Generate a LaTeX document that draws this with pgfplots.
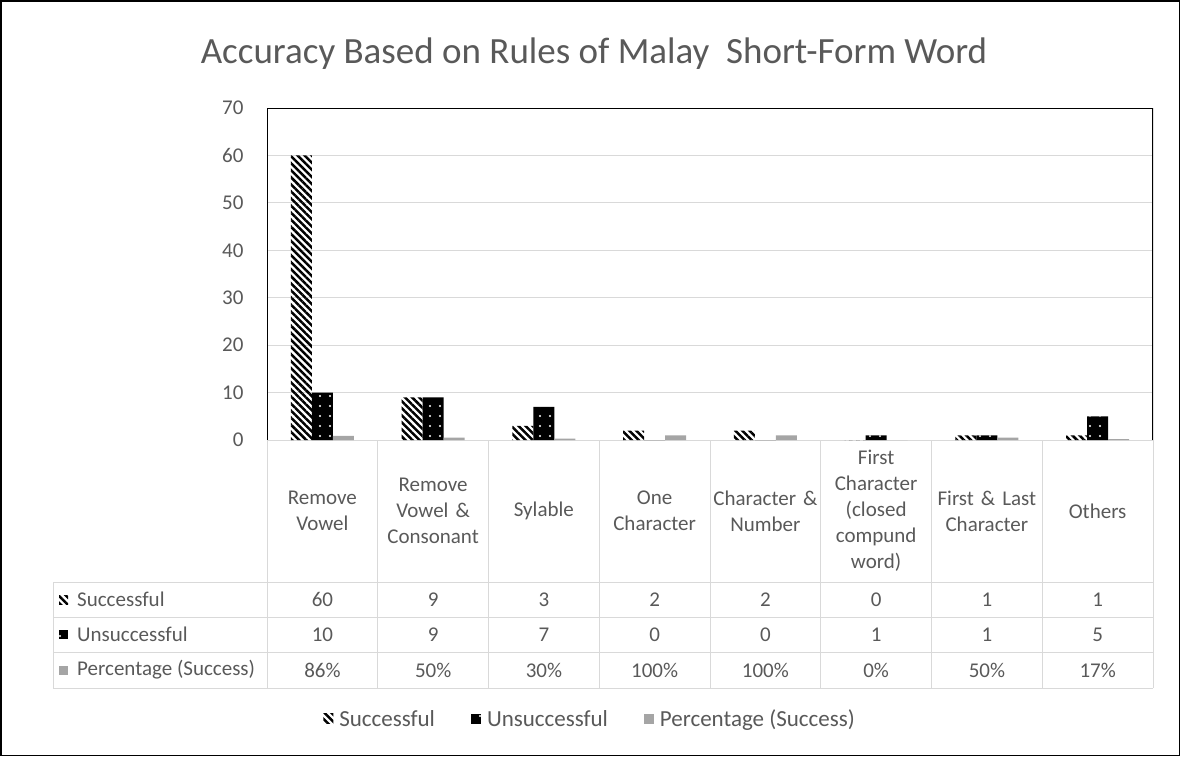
\documentclass[border=0pt]{standalone}
\usepackage{pgfplots}
\pgfplotsset{compat=1.18}
\usepackage{fontspec}
\setmainfont{Carlito}
\usetikzlibrary{patterns.meta}
\definecolor{txt}{HTML}{595959}
\definecolor{grd}{HTML}{D9D9D9}
\definecolor{pct}{HTML}{A5A5A5}
\tikzset{
  succ/.style={pattern={Lines[angle=-45,distance=5pt,line width=2.5pt]},pattern color=black},
  unsucc/.style={fill=black,postaction={pattern={Dots[distance=10pt,radius=1.2pt]},pattern color=white}}
}
\newcommand\fs{\fontsize{21}{26}\selectfont}
\begin{document}
\begin{tikzpicture}[x=1pt,y=1pt]
\path (0,0) rectangle (1180,-756);
\draw[line width=1.5pt] (0.75,-0.75) rectangle (1179.25,-755.25);
\node[text=txt, font=\fontsize{37}{44}\selectfont] at (594,-54) {Accuracy Based on Rules of Malay\ \ Short-Form Word};
\begin{axis}[at={(267pt,-440pt)}, anchor=south west, scale only axis,
  width=886pt, height=332pt, ybar,
  ymin=0, ymax=70, ytick={0,10,...,70}, xmin=-0.5, xmax=7.5,
  xtick={0,...,7},
  xticklabels={{Remove\\Vowel},{Remove\\Vowel \&\\Consonant},{Sylable},{One\\Character},{Character \&\\Number},{First\\Character\\(closed\\compund\\word)},{First \& Last\\Character},{Others}},
  xticklabel style={text=txt, anchor=center, yshift=-71pt, align=center, text width=105pt, font=\fs},
  yticklabel style={text=txt, font=\fs, xshift=-20pt},
  /pgf/number format/assume math mode=true,
  ymajorgrids, grid style={grd, line width=1pt},
  major tick length=0pt, axis line style={draw=none},
  legend style={at={(0.3646,-0.84)}, anchor=center, draw=none, legend columns=3, text=txt,
    font=\fontsize{23}{28}\selectfont,
    /tikz/every odd column/.append style={column sep=4pt},
    /tikz/every even column/.append style={column sep=34pt}},
  legend image code/.code={\fill[#1] (0pt,-5pt) rectangle (10pt,5pt);},
]
\addplot[succ, draw=none, bar width=21pt, bar shift=-21pt] coordinates {(0,60)(1,9)(2,3)(3,2)(4,2)(5,0)(6,1)(7,1)};
\addplot[unsucc, draw=none, bar width=21pt, bar shift=0pt] coordinates {(0,10)(1,9)(2,7)(3,0)(4,0)(5,1)(6,1)(7,5)};
\addplot[fill=pct, draw=none, bar width=21pt, bar shift=21pt] coordinates {(0,0.86)(1,0.5)(2,0.3)(3,1)(4,1)(5,0)(6,0.5)(7,0.17)};
\legend{Successful,Unsuccessful,Percentage (Success)}
\draw[black, line width=1.2pt] (rel axis cs:0,0) -- (rel axis cs:0,1) -- (rel axis cs:1,1) -- (rel axis cs:1,0);
\end{axis}
\foreach \i in {1,...,8} \draw[grd, line width=1pt] ({267+\i*110.75},-440) -- ({267+\i*110.75},-688);
\draw[grd, line width=1pt] (267,-441) -- (267,-688);
\foreach \y in {582,617,652,688} \draw[grd, line width=1pt] (53,-\y) -- (1153,-\y);
\draw[grd, line width=1pt] (53,-582) -- (53,-688);
\foreach \v [count=\i from 0] in {60,9,3,2,2,0,1,1} \node[text=txt,font=\fs] at ({322.4+\i*110.75},-599.5) {\v};
\foreach \v [count=\i from 0] in {10,9,7,0,0,1,1,5} \node[text=txt,font=\fs] at ({322.4+\i*110.75},-634.5) {\v};
\foreach \v [count=\i from 0] in {86\%,50\%,30\%,100\%,100\%,0\%,50\%,17\%} \node[text=txt,font=\fs] at ({322.4+\i*110.75},-670) {\v};
\fill[succ] (59,-595) rectangle (68,-604);
\fill[unsucc] (59,-630) rectangle (68,-639);
\fill[pct] (59,-665.5) rectangle (68,-674.5);
\node[anchor=west,text=txt,font=\fs,inner sep=0pt] at (77,-599.5) {Successful};
\node[anchor=west,text=txt,font=\fs,inner sep=0pt] at (77,-634.5) {Unsuccessful};
\node[anchor=west,text=txt,font=\fs,inner sep=0pt] at (77,-670) {Percentage (Success)};
\end{tikzpicture}
\end{document}
